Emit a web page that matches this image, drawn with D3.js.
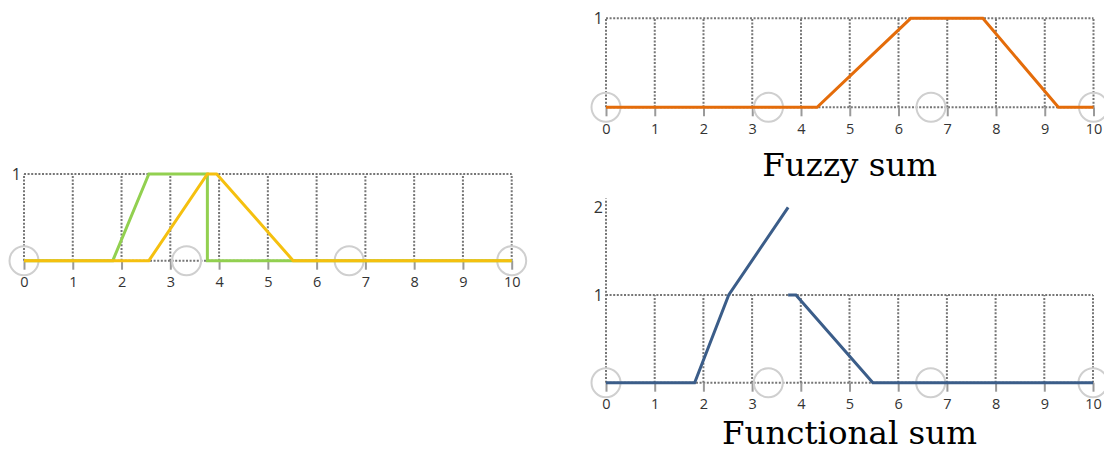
<!DOCTYPE html>
<html>
<head>
<meta charset="utf-8">
<script src="https://cdn.jsdelivr.net/npm/d3@7"></script>
<style>
  html, body { margin: 0; padding: 0; background: #fff; }
  svg { display: block; }
</style>
</head>
<body>
<svg id="chart" width="1104" height="452"></svg>
<script>
// Shared x axis ticks for all three panels
const xTicks = [0, 1, 2, 3, 4, 5, 6, 7, 8, 9, 10];
// Marker circles along the baseline (thirds of the domain)
const markerXs = [0, 10 / 3, 20 / 3, 10];

// Input membership functions (left panel)
const greenSet = [[0, 0], [1.82, 0], [2.56, 1], [3.76, 1], [3.76, 0], [10, 0]];
const yellowSet = [[0, 0], [2.56, 0], [3.76, 1], [3.95, 1], [5.52, 0], [10, 0]];

// Fuzzy sum result
const fuzzySum = [[0, 0], [4.33, 0], [6.25, 1], [7.73, 1], [9.28, 0], [10, 0]];

// Functional (pointwise) sum, drawn as two separate pieces
const functionalSumA = [[0, 0], [1.82, 0], [2.52, 1], [3.74, 2]];
const functionalSumB = [[3.74, 1], [3.9, 1], [5.48, 0], [10, 0]];

const svg = d3.select("#chart");

function drawPanel(cfg) {
  const x = d3.scaleLinear().domain([0, 10]).range([cfg.x0, cfg.x1]);
  const y = d3.scaleLinear().domain([0, 1]).range([cfg.y0, cfg.y1]);
  const g = svg.append("g");
  const grid = "#767676";
  const dash = "2,1.6";

  // dotted grid: baseline, top line at 1, verticals at each integer
  [0, 1].forEach(v => {
    g.append("line")
      .attr("x1", x(0)).attr("x2", x(10)).attr("y1", y(v)).attr("y2", y(v))
      .attr("stroke", grid).attr("stroke-width", 2).attr("stroke-dasharray", dash);
  });
  g.selectAll("line.vgrid").data(xTicks).join("line").attr("class", "vgrid")
    .attr("x1", d => x(d)).attr("x2", d => x(d))
    .attr("y1", y(0))
    .attr("y2", d => (d === 0 ? y(cfg.yTop) : y(1)))
    .attr("stroke", grid).attr("stroke-width", 2).attr("stroke-dasharray", dash);

  // x axis: short solid ticks below the baseline with labels
  const axis = d3.axisBottom(x).tickValues(xTicks).tickSize(9).tickPadding(7)
    .tickFormat(d3.format("d"));
  const ax = g.append("g").attr("transform", `translate(0,${y(0)})`).call(axis);
  ax.select(".domain").remove();
  ax.selectAll(".tick line").attr("stroke", "#9a9a9a").attr("stroke-width", 2);
  ax.selectAll(".tick text")
    .style("fill", "#333").style("font-family", "'Open Sans', sans-serif")
    .style("font-size", "14.5px");

  // y labels
  g.selectAll("text.ylab").data(cfg.yLabels).join("text").attr("class", "ylab")
    .attr("x", x(0) - 3).attr("y", d => y(d))
    .attr("dy", "0.36em").attr("text-anchor", "end")
    .style("fill", "#333").style("font-family", "'Open Sans', sans-serif")
    .style("font-size", "16px")
    .text(d => d);

  // marker circles
  g.selectAll("circle.mark").data(markerXs).join("circle").attr("class", "mark")
    .attr("cx", d => x(d)).attr("cy", y(0)).attr("r", 14.5)
    .attr("fill", "none").attr("stroke", "#cfcfcf").attr("stroke-width", 2);

  // data lines
  const line = d3.line().x(d => x(d[0])).y(d => y(d[1]));
  cfg.series.forEach(s => {
    g.append("path").datum(s.data)
      .attr("d", line)
      .attr("fill", "none").attr("stroke", s.color)
      .attr("stroke-width", 3).attr("stroke-linejoin", "miter");
  });

  if (cfg.title) {
    g.append("text")
      .attr("x", (cfg.x0 + cfg.x1) / 2).attr("y", cfg.titleY)
      .attr("text-anchor", "middle")
      .style("font-family", "'DejaVu Serif', serif")
      .style("font-size", "32.5px").style("fill", "#000")
      .text(cfg.title);
  }
}

drawPanel({
  x0: 24, x1: 511.7, y0: 260.7, y1: 174, yTop: 1, yLabels: [1],
  series: [
    { data: greenSet, color: "#92d050" },
    { data: yellowSet, color: "#f5c00f" }
  ]
});

drawPanel({
  x0: 606, x1: 1093.5, y0: 107.3, y1: 18.3, yTop: 1, yLabels: [1],
  series: [{ data: fuzzySum, color: "#e46c0a" }],
  title: "Fuzzy sum", titleY: 176
});

drawPanel({
  x0: 606, x1: 1093, y0: 382.7, y1: 295, yTop: 2.1, yLabels: [1, 2],
  series: [
    { data: functionalSumA, color: "#3b5d89" },
    { data: functionalSumB, color: "#3b5d89" }
  ],
  title: "Functional sum", titleY: 444
});
</script>
</body>
</html>
